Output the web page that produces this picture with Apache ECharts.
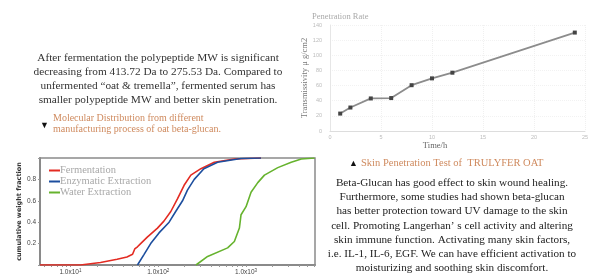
<!DOCTYPE html>
<html>
<head>
<meta charset="utf-8">
<script src="https://cdn.jsdelivr.net/npm/echarts@6/dist/echarts.min.js"></script>
<style>
  html, body { margin: 0; padding: 0; background: #fff; }
  #main { width: 603px; height: 276px; }
</style>
</head>
<body>
<div id="main"></div>
<script>
// left chart: molecular weight (Da, log axis) vs cumulative weight fraction
var fermMW   = [4.5, 13, 22, 34, 44, 51, 54, 58, 63, 75, 98, 116, 139, 166, 197, 235, 306, 435, 736, 1480];
var fermFrac = [0, 0, 0.023, 0.053, 0.075, 0.1, 0.15, 0.17, 0.2, 0.26, 0.345, 0.41, 0.5, 0.62, 0.745, 0.84, 0.9, 0.96, 0.99, 1.0];
var enzMW    = [58, 69, 82, 102, 133, 158, 189, 215, 257, 331, 474, 877, 1480];
var enzFrac  = [0, 0.1, 0.2, 0.3, 0.4, 0.5, 0.6, 0.7, 0.8, 0.9, 0.96, 0.995, 1.0];
var waterMW  = [269, 365, 617, 736, 840, 877, 1000, 1140, 1360, 1620, 2300, 3270, 4260, 6030];
var waterFrac= [0, 0.08, 0.16, 0.22, 0.345, 0.47, 0.545, 0.68, 0.77, 0.84, 0.91, 0.96, 0.99, 1.0];
var seriesNames = ['Fermentation', 'Enzymatic Extraction', 'Water Extraction'];

// right chart: penetration rate
var timeH = [1, 2, 4, 6, 8, 10, 12, 24];
var transmissivity = [23, 31, 43, 43.5, 60.5, 69.5, 77, 130];

// minor ticks of the log axis (2..9 x each decade)
var logMinor = [];
[1, 10, 100, 1000].forEach(function (d) {
  for (var k = 1; k <= 9; k++) { if (k * d > 4.5 && k * d < 6100) logMinor.push(k * d); }
});

function pairs(xs, ys) {
  return xs.map(function (x, i) { return [x, ys[i]]; });
}

var serif = '"Liberation Serif", "DejaVu Serif", serif';
var orange = '#cf8a5e';

var chart = echarts.init(document.getElementById('main'));
var option = {
  animation: false,
  color: ['#e32b22', '#1d4e9e', '#66b32e'],
  legend: {
    data: seriesNames,
    orient: 'vertical',
    left: 44,
    top: 160,
    itemWidth: 11,
    itemHeight: 2,
    itemGap: 0,
    icon: 'rect',
    textStyle: { fontFamily: serif, fontSize: 10.5, color: '#a8a8a8', lineHeight: 10, padding: [0, 0, 0, -5] }
  },
  grid: [
    { left: 40, top: 158, width: 275, height: 109, show: true, borderColor: '#8a8a8a', borderWidth: 1.5 },
    { left: 330, right: 18, top: 25, bottom: 145 }
  ],
  xAxis: [
    {
      type: 'log', logBase: 10, gridIndex: 0, min: 4.5, max: 6100,
      axisLine: { lineStyle: { color: '#8a8a8a', width: 2 } },
      axisTick: { show: true, length: 2, customValues: logMinor, lineStyle: { color: '#999' } },
      splitLine: { show: false },
      axisLabel: {
        fontSize: 6.5, color: '#444', margin: 3,
        formatter: function (v) {
          var e = Math.log10(v);
          if (Math.abs(e - Math.round(e)) > 1e-6) return '';
          return '1.0x10{s|' + Math.round(e) + '}';
        },
        rich: { s: { fontSize: 4.5, color: '#444', verticalAlign: 'top', padding: [0, 0, 4, 0] } }
      }
    },
    {
      type: 'value', gridIndex: 1, min: 0, max: 25, interval: 5,
      name: 'Time/h', nameLocation: 'middle', nameGap: 10,
      nameTextStyle: { fontFamily: serif, fontSize: 8.5, color: '#666', padding: [0, 45, 0, 0] },
      axisLine: { lineStyle: { color: '#ddd' } },
      axisTick: { show: false },
      splitLine: { show: true, lineStyle: { color: '#f0f0f0', type: 'dotted' } },
      axisLabel: { fontSize: 5.5, color: '#bbb', margin: 3 }
    }
  ],
  yAxis: [
    {
      type: 'value', gridIndex: 0, min: 0, max: 1, interval: 0.2,
      name: 'cumulative weight fraction', nameLocation: 'middle', nameGap: 16,
      nameTextStyle: { fontFamily: '"DejaVu Sans", sans-serif', fontSize: 6.5, fontWeight: 'bold', color: '#333' },
      axisLine: { show: true, lineStyle: { color: '#8a8a8a', width: 2 } },
      axisTick: { show: true, length: 2, lineStyle: { color: '#999' } },
      splitLine: { show: false },
      axisLabel: {
        fontSize: 6.5, color: '#444', margin: 4,
        formatter: function (v) { return (v <= 0 || v >= 1) ? '' : v.toFixed(1); }
      }
    },
    {
      type: 'value', gridIndex: 1, min: 0, max: 140, interval: 20,
      name: 'Transmissivity μ g/cm2', nameLocation: 'middle', nameGap: 18,
      nameTextStyle: { fontFamily: serif, fontSize: 8.5, color: '#777', padding: [0, 0, 0, 0] },
      axisLine: { show: true, lineStyle: { color: '#e6e6e6' } },
      axisTick: { show: false },
      splitLine: { show: true, lineStyle: { color: '#f2f2f2', type: 'dotted' } },
      axisLabel: { fontSize: 5.5, color: '#bbb', margin: 8 }
    }
  ],
  series: [
    { name: seriesNames[0], type: 'line', xAxisIndex: 0, yAxisIndex: 0, data: pairs(fermMW, fermFrac),
      showSymbol: false, lineStyle: { width: 1.6 }, z: 3 },
    { name: seriesNames[1], type: 'line', xAxisIndex: 0, yAxisIndex: 0, data: pairs(enzMW, enzFrac),
      showSymbol: false, lineStyle: { width: 1.6 }, z: 3 },
    { name: seriesNames[2], type: 'line', xAxisIndex: 0, yAxisIndex: 0, data: pairs(waterMW, waterFrac),
      showSymbol: false, lineStyle: { width: 1.6 }, z: 3 },
    { name: 'Penetration Rate', type: 'line', xAxisIndex: 1, yAxisIndex: 1, data: pairs(timeH, transmissivity),
      symbol: 'rect', symbolSize: 4, lineStyle: { color: '#8c8c8c', width: 1.8 }, itemStyle: { color: '#444' } }
  ],
  graphic: [
    { type: 'text', x: 312, y: 12, style: { text: 'Penetration Rate', fontFamily: serif, fontSize: 8.5, fill: '#aaa' } },
    { type: 'text', x: 158, y: 51, style: {
      text: 'After fermentation the polypeptide MW is significant\n' +
            'decreasing from 413.72 Da to 275.53 Da. Compared to\n' +
            'unfermented \u201Coat & tremella\u201D, fermented serum has\n' +
            'smaller polypeptide MW and better skin penetration.',
      fontFamily: serif, fontSize: 11.3, lineHeight: 14, fill: '#333', textAlign: 'center', align: 'center' } },
    { type: 'text', x: 40, y: 121, style: { text: '\u25BC', fontSize: 9, fill: '#111' } },
    { type: 'text', x: 53, y: 113, style: {
      text: 'Molecular Distribution from different\nmanufacturing process of oat beta-glucan.',
      fontFamily: serif, fontSize: 10, lineHeight: 11, fill: orange } },
    { type: 'text', x: 349, y: 159, style: { text: '\u25B2', fontSize: 9, fill: '#111' } },
    { type: 'text', x: 361, y: 158, style: {
      text: 'Skin Penetration Test of  TRULYFER OAT', fontFamily: serif, fontSize: 10.5, fill: orange } },
    { type: 'text', x: 452, y: 176, style: {
      text: 'Beta-Glucan has good effect to skin wound healing.\n' +
            'Furthermore, some studies had shown beta-glucan\n' +
            'has better protection toward UV damage to the skin\n' +
            'cell. Promoting Langerhan\u2019 s cell activity and altering\n' +
            'skin immune function. Activating many skin factors,\n' +
            'i.e. IL-1, IL-6, EGF. We can have efficient activation to\n' +
            'moisturizing and soothing skin discomfort.',
      fontFamily: serif, fontSize: 11.2, lineHeight: 14.2, fill: '#222', textAlign: 'center', align: 'center' } }
  ]
};
chart.setOption(option);
</script>
</body>
</html>
